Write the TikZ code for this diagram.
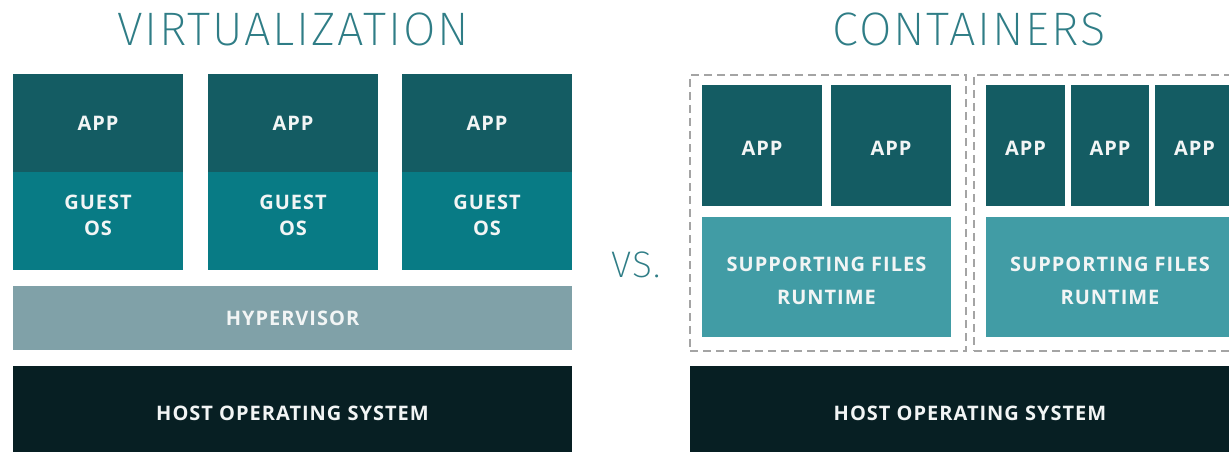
\documentclass[tikz,border=0pt]{standalone}
\usepackage{fontspec}
\setmainfont{Fira Sans}
\newfontfamily\thinfont[LetterSpace=4]{Fira Sans ExtraLight}
\newfontfamily\boldfont[LetterSpace=5]{Open Sans}
\definecolor{appc}{HTML}{145C63}
\definecolor{guestc}{HTML}{087B85}
\definecolor{hyperc}{HTML}{80A1A8}
\definecolor{hostc}{HTML}{071F23}
\definecolor{suppc}{HTML}{419CA5}
\definecolor{titlec}{HTML}{2F7D86}
\definecolor{dashc}{HTML}{A4A4A4}
\definecolor{txtc}{HTML}{F2F5F5}
\tikzset{
  blk/.style={draw=none, inner sep=0pt, outer sep=0pt, anchor=north west,
    align=center, text=txtc, font=\boldfont\bfseries\fontsize{20}{26}\selectfont},
  supblk/.style={blk, fill=suppc, text height=54.6pt, font=\boldfont\bfseries\fontsize{20}{33}\selectfont},
  ttl/.style={text=titlec, font=\thinfont\fontsize{47}{50}\selectfont, inner sep=0pt},
  grp/.style={draw=dashc, line width=2pt, dash pattern=on 8pt off 5pt, fill=none}
}
\begin{document}
\begin{tikzpicture}[x=1pt,y=-1pt]
\useasboundingbox (0,0) rectangle (1229,452);
% titles
\node[ttl] (tv) at (293,29) {VIRTUALIZATION};
\node[ttl] (tc) at (969,29) {CONTAINERS};
\node[ttl, font=\thinfont\fontsize{37}{40}\selectfont] (vs) at (636,265) {VS.};
% virtualization
\node[blk, fill=appc, minimum width=170pt, minimum height=98pt] (a1) at (13,74) {APP};
\node[blk, fill=appc, minimum width=170pt, minimum height=98pt] (a2) at (208,74) {APP};
\node[blk, fill=appc, minimum width=170pt, minimum height=98pt] (a3) at (402,74) {APP};
\node[blk, fill=guestc, minimum width=170pt, minimum height=98pt, text depth=12pt] (g1) at (13,172) {GUEST\\OS};
\node[blk, fill=guestc, minimum width=170pt, minimum height=98pt, text depth=12pt] (g2) at (208,172) {GUEST\\OS};
\node[blk, fill=guestc, minimum width=170pt, minimum height=98pt, text depth=12pt] (g3) at (402,172) {GUEST\\OS};
\node[blk, fill=hyperc, minimum width=559pt, minimum height=64pt] (hv) at (13,286) {HYPERVISOR};
\node[blk, fill=hostc, minimum width=559pt, minimum height=94pt] (h1) at (13,366) {HOST OPERATING SYSTEM};
% containers
\node[grp, anchor=north west, minimum width=276pt, minimum height=276pt, inner sep=0pt] (d1) at (689,74) {};
\node[grp, anchor=north west, minimum width=277pt, minimum height=276pt, inner sep=0pt] (d2) at (973,74) {};
\node[blk, fill=appc, minimum width=120pt, minimum height=121pt, text height=20pt] (c1) at (702,85) {APP};
\node[blk, fill=appc, minimum width=120pt, minimum height=121pt, text height=20pt] (c2) at (831,85) {APP};
\node[supblk, minimum width=249pt, minimum height=120pt] (s1) at (702,217) {SUPPORTING FILES\\RUNTIME};
\node[blk, fill=appc, minimum width=79pt, minimum height=121pt, text height=20pt] (c3) at (986,85) {APP};
\node[blk, fill=appc, minimum width=78pt, minimum height=121pt, text height=20pt] (c4) at (1071,85) {APP};
\node[blk, fill=appc, minimum width=79pt, minimum height=121pt, text height=20pt] (c5) at (1155,85) {APP};
\node[supblk, minimum width=248pt, minimum height=120pt] (s2) at (986,217) {SUPPORTING FILES\\RUNTIME};
\node[blk, fill=hostc, minimum width=560pt, minimum height=94pt] (h2) at (690,366) {HOST OPERATING SYSTEM};
\end{tikzpicture}
\end{document}
